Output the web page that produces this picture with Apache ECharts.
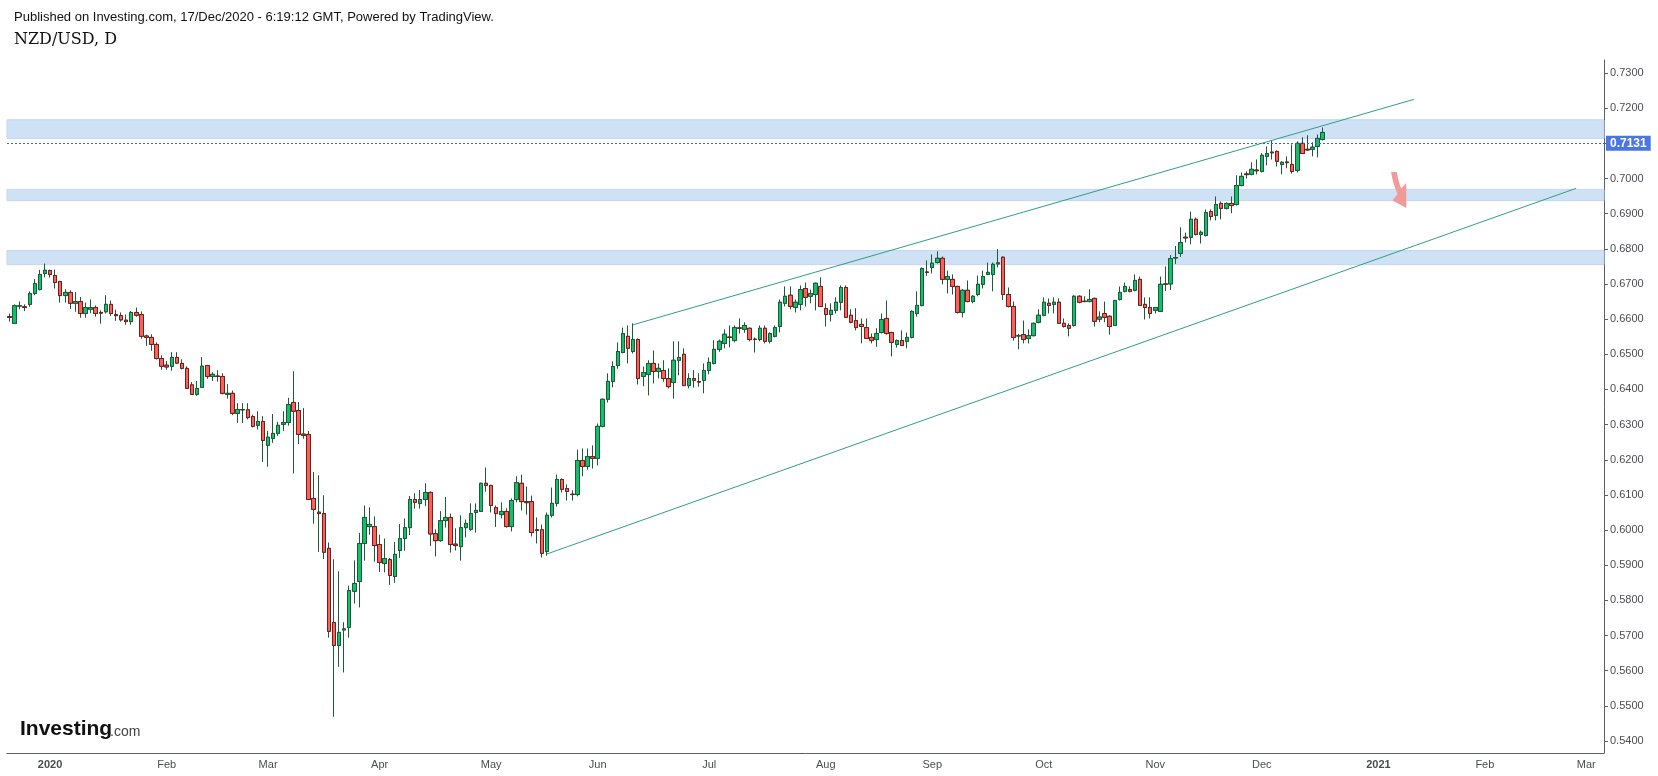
<!DOCTYPE html>
<html><head><meta charset="utf-8">
<script src="https://cdn.jsdelivr.net/npm/echarts@6/dist/echarts.min.js"></script>
<style>html,body{margin:0;padding:0;background:#fff}#c{width:1658px;height:776px}</style>
</head><body><div id="c"></div>
<script>
// ---- categories: daily (weekday) bars ----
const firstDay = '2019-12-20';
const lastDay = '2021-03-04';
const monthNames = ['Jan','Feb','Mar','Apr','May','Jun','Jul','Aug','Sep','Oct','Nov','Dec'];
const yTicks = [0.54,0.55,0.56,0.57,0.58,0.59,0.60,0.61,0.62,0.63,0.64,0.65,0.66,0.67,0.68,0.69,0.70,0.71,0.72,0.73];

// ---- OHLC values (one per bar from 2019-12-20 to 2020-12-17) ----
const open = [
0.6607,0.6588,0.6637,0.6635,0.6642,0.6673,0.6684,0.6730,0.6738,0.6724,
0.6707,0.6667,0.6676,0.6645,0.6650,0.6616,0.6628,0.6633,0.6619,0.6621,
0.6642,0.6613,0.6610,0.6597,0.6593,0.6619,0.6613,0.6552,0.6548,0.6528,
0.6488,0.6469,0.6466,0.6491,0.6474,0.6460,0.6413,0.6386,0.6406,0.6468,
0.6437,0.6438,0.6437,0.6386,0.6389,0.6332,0.6343,0.6342,0.6323,0.6298,
0.6309,0.6241,0.6261,0.6275,0.6301,0.6306,0.6363,0.6340,0.6273,0.6272,
0.6090,0.6051,0.6047,0.5948,0.5737,0.5672,0.5716,0.5723,0.5826,0.5854,
0.5962,0.6010,0.6010,0.5959,0.5905,0.5916,0.5868,0.5942,0.5976,0.6007,
0.6087,0.6076,0.6087,0.6107,0.5990,0.5970,0.6027,0.6036,0.5960,0.5953,
0.6007,0.6002,0.6050,0.6053,0.6133,0.6127,0.6064,0.6044,0.6053,0.6010,
0.6087,0.6133,0.6081,0.6081,0.6001,0.6001,0.5939,0.6042,0.6076,0.6144,
0.6118,0.6102,0.6101,0.6198,0.6181,0.6209,0.6204,0.6295,0.6372,0.6423,
0.6468,0.6505,0.6551,0.6508,0.6542,0.6437,0.6443,0.6474,0.6451,0.6454,
0.6431,0.6420,0.6483,0.6500,0.6411,0.6431,0.6422,0.6426,0.6454,0.6474,
0.6514,0.6531,0.6549,0.6539,0.6575,0.6571,0.6574,0.6543,0.6542,0.6574,
0.6537,0.6551,0.6579,0.6645,0.6668,0.6633,0.6642,0.6687,0.6665,0.6670,
0.6693,0.6630,0.6613,0.6625,0.6648,0.6690,0.6611,0.6596,0.6585,0.6576,
0.6548,0.6542,0.6562,0.6602,0.6562,0.6528,0.6539,0.6537,0.6548,0.6616,
0.6639,0.6734,0.6747,0.6761,0.6773,0.6713,0.6713,0.6693,0.6619,0.6682,
0.6650,0.6670,0.6699,0.6727,0.6727,0.6757,0.6776,0.6670,0.6636,0.6552,
0.6556,0.6545,0.6553,0.6591,0.6611,0.6645,0.6642,0.6648,0.6588,0.6582,
0.6582,0.6665,0.6651,0.6650,0.6659,0.6600,0.6616,0.6608,0.6582,0.6656,
0.6679,0.6684,0.6682,0.6713,0.6642,0.6633,0.6625,0.6622,0.6700,0.6700,
0.6774,0.6787,0.6833,0.6833,0.6884,0.6841,0.6838,0.6906,0.6895,0.6929,
0.6915,0.6929,0.6926,0.6980,0.7013,0.7012,0.7024,0.7020,0.7063,0.7075,
0.7077,0.7040,0.7047,0.7040,0.7023,0.7100,0.7083,0.7083,0.7091,0.7111];
const high = [
0.6616,0.6642,0.6650,0.6642,0.6679,0.6714,0.6740,0.6758,0.6741,0.6741,
0.6709,0.6685,0.6682,0.6677,0.6663,0.6647,0.6656,0.6639,0.6625,0.6668,
0.6653,0.6627,0.6619,0.6613,0.6623,0.6633,0.6622,0.6556,0.6557,0.6534,
0.6497,0.6481,0.6506,0.6506,0.6486,0.6466,0.6421,0.6424,0.6492,0.6470,
0.6449,0.6455,0.6446,0.6415,0.6397,0.6361,0.6361,0.6361,0.6328,0.6338,
0.6324,0.6282,0.6330,0.6308,0.6338,0.6376,0.6452,0.6364,0.6347,0.6282,
0.6165,0.6156,0.6099,0.5965,0.5917,0.5883,0.5738,0.5842,0.5914,0.5992,
0.6070,0.6065,0.6039,0.5987,0.5976,0.5921,0.5966,0.6017,0.6033,0.6097,
0.6105,0.6114,0.6133,0.6110,0.6002,0.6054,0.6094,0.6047,0.6005,0.6042,
0.6030,0.6076,0.6076,0.6135,0.6178,0.6129,0.6070,0.6079,0.6062,0.6090,
0.6153,0.6158,0.6124,0.6098,0.6036,0.6016,0.6050,0.6121,0.6158,0.6147,
0.6130,0.6113,0.6229,0.6232,0.6232,0.6241,0.6303,0.6374,0.6446,0.6480,
0.6534,0.6576,0.6582,0.6588,0.6545,0.6465,0.6483,0.6511,0.6474,0.6483,
0.6460,0.6537,0.6537,0.6517,0.6446,0.6455,0.6446,0.6474,0.6491,0.6540,
0.6542,0.6571,0.6582,0.6582,0.6602,0.6591,0.6576,0.6548,0.6582,0.6582,
0.6562,0.6582,0.6656,0.6693,0.6693,0.6656,0.6696,0.6704,0.6684,0.6704,
0.6719,0.6645,0.6645,0.6662,0.6696,0.6696,0.6628,0.6631,0.6602,0.6602,
0.6559,0.6574,0.6616,0.6653,0.6564,0.6542,0.6568,0.6562,0.6625,0.6679,
0.6747,0.6767,0.6784,0.6793,0.6778,0.6738,0.6727,0.6695,0.6685,0.6710,
0.6668,0.6724,0.6738,0.6761,0.6761,0.6799,0.6778,0.6690,0.6650,0.6558,
0.6596,0.6571,0.6590,0.6628,0.6662,0.6659,0.6662,0.6659,0.6602,0.6588,
0.6668,0.6668,0.6665,0.6685,0.6661,0.6622,0.6650,0.6611,0.6655,0.6693,
0.6704,0.6693,0.6727,0.6721,0.6662,0.6662,0.6633,0.6721,0.6750,0.6782,
0.6808,0.6861,0.6846,0.6906,0.6889,0.6852,0.6912,0.6912,0.6949,0.6935,
0.6932,0.6949,0.7009,0.7017,0.7020,0.7046,0.7054,0.7072,0.7091,0.7108,
0.7080,0.7049,0.7063,0.7097,0.7106,0.7117,0.7123,0.7103,0.7125,0.7145];
const low = [
0.6593,0.6587,0.6628,0.6623,0.6635,0.6668,0.6682,0.6719,0.6718,0.6687,
0.6647,0.6647,0.6629,0.6621,0.6604,0.6604,0.6617,0.6607,0.6587,0.6616,
0.6609,0.6595,0.6593,0.6584,0.6584,0.6607,0.6544,0.6524,0.6510,0.6485,
0.6456,0.6456,0.6453,0.6472,0.6457,0.6402,0.6385,0.6382,0.6405,0.6430,
0.6424,0.6422,0.6386,0.6374,0.6327,0.6305,0.6305,0.6315,0.6292,0.6286,
0.6194,0.6180,0.6248,0.6268,0.6282,0.6297,0.6161,0.6245,0.6260,0.6086,
0.6018,0.5938,0.5918,0.5694,0.5469,0.5611,0.5595,0.5694,0.5791,0.5780,
0.5913,0.5987,0.5910,0.5881,0.5880,0.5844,0.5850,0.5921,0.5941,0.5986,
0.6061,0.6061,0.6068,0.5955,0.5925,0.5967,0.6007,0.5936,0.5942,0.5913,
0.5979,0.5998,0.5993,0.6052,0.6109,0.6050,0.6009,0.6033,0.6007,0.5996,
0.6079,0.6056,0.6044,0.5982,0.5962,0.5922,0.5927,0.6036,0.6067,0.6107,
0.6084,0.6084,0.6096,0.6153,0.6172,0.6175,0.6184,0.6292,0.6363,0.6406,
0.6459,0.6503,0.6474,0.6502,0.6414,0.6409,0.6383,0.6417,0.6431,0.6422,
0.6403,0.6374,0.6440,0.6410,0.6403,0.6405,0.6408,0.6389,0.6443,0.6471,
0.6507,0.6517,0.6520,0.6534,0.6559,0.6561,0.6537,0.6505,0.6537,0.6531,
0.6531,0.6548,0.6562,0.6636,0.6628,0.6619,0.6625,0.6636,0.6645,0.6625,
0.6635,0.6579,0.6593,0.6616,0.6625,0.6604,0.6588,0.6568,0.6531,0.6544,
0.6531,0.6521,0.6559,0.6556,0.6494,0.6519,0.6524,0.6517,0.6545,0.6607,
0.6636,0.6723,0.6730,0.6758,0.6699,0.6673,0.6670,0.6616,0.6605,0.6648,
0.6645,0.6665,0.6687,0.6725,0.6679,0.6747,0.6654,0.6633,0.6539,0.6514,
0.6531,0.6531,0.6551,0.6588,0.6608,0.6616,0.6616,0.6587,0.6576,0.6551,
0.6579,0.6645,0.6648,0.6648,0.6579,0.6591,0.6591,0.6556,0.6581,0.6653,
0.6676,0.6676,0.6679,0.6638,0.6599,0.6602,0.6616,0.6620,0.6680,0.6683,
0.6757,0.6777,0.6818,0.6813,0.6838,0.6815,0.6835,0.6881,0.6881,0.6884,
0.6912,0.6901,0.6923,0.6978,0.7000,0.7009,0.7012,0.7017,0.7037,0.7054,
0.7034,0.7012,0.7029,0.7014,0.7017,0.7070,0.7080,0.7063,0.7060,0.7108];
const close = [
0.6605,0.6638,0.6638,0.6633,0.6673,0.6701,0.6727,0.6739,0.6727,0.6704,
0.6667,0.6676,0.6645,0.6650,0.6616,0.6633,0.6633,0.6616,0.6617,0.6642,
0.6616,0.6610,0.6598,0.6593,0.6619,0.6611,0.6551,0.6548,0.6528,0.6488,
0.6466,0.6464,0.6491,0.6475,0.6460,0.6403,0.6386,0.6403,0.6466,0.6437,
0.6443,0.6437,0.6389,0.6389,0.6332,0.6343,0.6342,0.6320,0.6295,0.6309,
0.6255,0.6264,0.6275,0.6298,0.6306,0.6357,0.6338,0.6272,0.6269,0.6087,
0.6059,0.6047,0.5937,0.5712,0.5672,0.5709,0.5719,0.5828,0.5848,0.5962,
0.6036,0.6016,0.5956,0.5908,0.5919,0.5871,0.5931,0.5976,0.6007,0.6087,
0.6079,0.6087,0.6107,0.5989,0.5970,0.6027,0.6036,0.5959,0.5956,0.6007,
0.6019,0.6047,0.6056,0.6133,0.6127,0.6070,0.6047,0.6053,0.6010,0.6084,
0.6135,0.6081,0.6078,0.5993,0.5999,0.5934,0.6042,0.6076,0.6144,0.6116,
0.6110,0.6101,0.6198,0.6181,0.6209,0.6204,0.6295,0.6372,0.6423,0.6465,
0.6508,0.6559,0.6517,0.6542,0.6431,0.6448,0.6474,0.6451,0.6460,0.6431,
0.6408,0.6483,0.6491,0.6411,0.6431,0.6426,0.6421,0.6454,0.6477,0.6514,
0.6537,0.6557,0.6548,0.6576,0.6574,0.6582,0.6542,0.6542,0.6574,0.6537,
0.6559,0.6576,0.6648,0.6665,0.6636,0.6648,0.6684,0.6662,0.6673,0.6702,
0.6636,0.6613,0.6625,0.6648,0.6690,0.6605,0.6591,0.6576,0.6579,0.6545,
0.6539,0.6559,0.6599,0.6559,0.6534,0.6539,0.6525,0.6548,0.6622,0.6639,
0.6744,0.6733,0.6759,0.6773,0.6713,0.6721,0.6693,0.6619,0.6682,0.6650,
0.6665,0.6699,0.6721,0.6733,0.6756,0.6760,0.6670,0.6636,0.6548,0.6553,
0.6542,0.6553,0.6588,0.6611,0.6648,0.6639,0.6648,0.6588,0.6579,0.6574,
0.6665,0.6648,0.6650,0.6656,0.6594,0.6606,0.6605,0.6579,0.6653,0.6676,
0.6693,0.6679,0.6710,0.6639,0.6633,0.6616,0.6633,0.6699,0.6699,0.6772,
0.6775,0.6818,0.6831,0.6884,0.6841,0.6847,0.6903,0.6892,0.6926,0.6915,
0.6929,0.6923,0.6980,0.7006,0.7011,0.7026,0.7022,0.7066,0.7071,0.7073,
0.7049,0.7046,0.7045,0.7020,0.7100,0.7071,0.7081,0.7089,0.7114,0.7131];

// ---- annotations ----
const bands = [[0.7114,0.7167],[0.6937,0.6969],[0.6755,0.6795]];
const lastPrice = 0.7131;
const upperTrend = [['2020-06-10',0.6584],['2021-01-12',0.7225]];
const lowerTrend = [['2020-05-18',0.5932],['2021-02-25',0.6972]];
const arrowAt = ['2021-01-07',0.6967];

// ---- build ----
function weekdays(a,b){const out=[];let d=new Date(a+'T00:00:00Z');const e=new Date(b+'T00:00:00Z');
  while(d<=e){const w=d.getUTCDay();if(w>0&&w<6)out.push(d.toISOString().slice(0,10));d=new Date(d.getTime()+86400000);}return out;}
const cats = weekdays(firstDay,lastDay);
const full = [], bodies = [];
for (let i=0;i<cats.length;i++){
  if (i<open.length){
    full.push([open[i],close[i],low[i],high[i]]);
    bodies.push([open[i],close[i],Math.min(open[i],close[i]),Math.max(open[i],close[i])]);
  } else { full.push('-'); bodies.push('-'); }
}
const isMonthStart = (idx)=> idx>0 && cats[idx].slice(5,7)!==cats[idx-1].slice(5,7);

const chart = echarts.init(document.getElementById('c'), null, {renderer:'canvas'});
const teal = '#2f9e8a';
chart.setOption({
  animation:false,
  backgroundColor:'#ffffff',
  grid:{left:7,right:54,top:60,bottom:23},
  xAxis:{type:'category',data:cats,boundaryGap:true,
    axisLine:{lineStyle:{color:'#5b5e63',width:1}},
    axisTick:{alignWithLabel:true,interval:(i)=>isMonthStart(i),length:4,lineStyle:{color:'#5b5e63'}},
    axisLabel:{interval:(i)=>isMonthStart(i),hideOverlap:false,margin:6,color:'#4a4d52',fontSize:11,fontFamily:'Liberation Sans',
      formatter:(v)=>{const m=+v.slice(5,7);return m===1?'{y|'+v.slice(0,4)+'}':monthNames[m-1];},
      rich:{y:{fontWeight:'bold',fontSize:11,color:'#4a4d52',fontFamily:'Liberation Sans'}}},
    splitLine:{show:false}},
  yAxis:{type:'value',position:'right',min:0.5366,max:0.7337,splitNumber:20,scale:true,
    axisLine:{show:true,lineStyle:{color:'#5b5e63',width:1}},
    axisTick:{show:true,length:4,lineStyle:{color:'#5b5e63'}},
    axisLabel:{showMinLabel:false,showMaxLabel:false,margin:6,color:'#4a4d52',fontSize:11,fontFamily:'Liberation Sans',
      formatter:(v)=>{const r=Math.round(v*100)/100;return yTicks.some(t=>Math.abs(t-v)<1e-6)?r.toFixed(4):'';}},
    splitLine:{show:false}},
  graphic:[
    {type:'text',x:14,y:17,style:{text:'Published on Investing.com, 17/Dec/2020 - 6:19:12 GMT, Powered by TradingView.',fontSize:13,fontFamily:'Liberation Sans',fill:'#111',verticalAlign:'middle'}},
    {type:'text',x:14,y:40,style:{text:'NZD/USD, D',fontSize:16,fontFamily:'DejaVu Serif',fill:'#111',verticalAlign:'middle'}},
    {type:'text',x:20,y:729,style:{text:'Investing',fontSize:21,fontWeight:'bold',fontFamily:'Liberation Sans',fill:'#111',verticalAlign:'middle',letterSpacing:-0.4}},
    {type:'text',x:110,y:732,style:{text:'.com',fontSize:14,fontFamily:'Liberation Sans',fill:'#444',verticalAlign:'middle'}}
  ],
  series:[
    {type:'candlestick',name:'full',data:full,barWidth:4,
      itemStyle:{color:'#12c06c',color0:'#fc6157',borderColor:'#1e5a38',borderColor0:'#1e5a38',borderWidth:1},
      markArea:{silent:true,itemStyle:{color:'#cfe1f5',borderColor:'#c2d7f0',borderWidth:1},
        data:bands.map(b=>[{yAxis:b[0]},{yAxis:b[1]}])},
      markLine:{silent:true,symbol:['none','none'],animation:false,
        lineStyle:{color:teal,width:1,type:'solid'},label:{show:false},
        data:[
          [{coord:upperTrend[0]},{coord:upperTrend[1]}],
          [{coord:lowerTrend[0]},{coord:lowerTrend[1]}]
        ]},
      markPoint:{silent:true,animation:false,
        data:[{coord:arrowAt,symbol:'path://M0,0 L8,0 Q10,9 14,15 L21,10 L21,33 L2,26 L9,20 Q3,12 0,0 Z',symbolSize:[24,36],symbolKeepAspect:true,
          itemStyle:{color:'#f09a9a'},label:{show:false}}]}
    },
    {type:'candlestick',name:'body',data:bodies,barWidth:4,
      itemStyle:{color:'#12c06c',color0:'#fc6157',borderColor:'#1e5a38',borderColor0:'#6e1f1f',borderWidth:1},
      markLine:{silent:true,symbol:['none','none'],animation:false,
        lineStyle:{color:'#2962ff',width:1,type:[2,2],opacity:1},
        label:{show:true,position:'end',distance:2,formatter:lastPrice.toFixed(4),backgroundColor:'#4a76e4',color:'#fff',fontWeight:'bold',fontSize:12,fontFamily:'Liberation Sans',padding:[2,4,1,4]},
        data:[{yAxis:lastPrice}]}
    }
  ]
});
</script></body></html>
